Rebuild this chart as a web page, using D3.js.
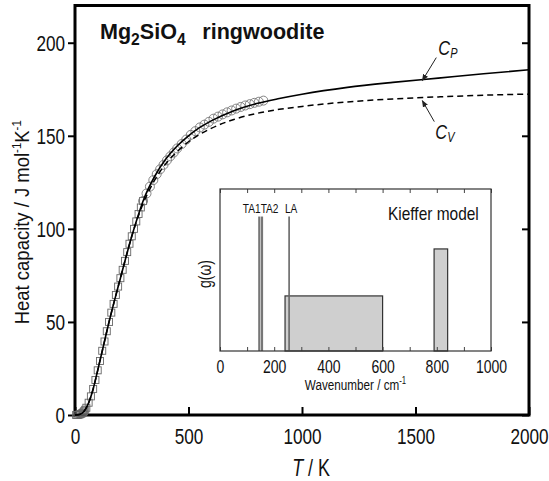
<!DOCTYPE html>
<html>
<head>
<meta charset="utf-8">
<script src="https://cdn.jsdelivr.net/npm/d3@7"></script>
<style>
  body { margin: 0; background: #fff; }
  svg { display: block; }
</style>
</head>
<body>
<div id="viz"></div>
<script>
'use strict';

// smooth model curves (T in K, heat capacity in J/mol/K)
const curveT = [0, 20, 40, 60, 80, 100, 125, 150, 175, 200, 225, 250, 275, 300, 350, 400, 450, 500, 550, 600, 700, 800, 900, 1000, 1200, 1400, 1600, 1800, 2000];
const curveCp = [0, 0.3, 2, 6.5, 14, 24, 37, 50, 62, 73.5, 85, 96, 106, 115, 128, 137.5, 144.5, 150, 154.5, 158, 163.5, 167.3, 170, 172.3, 176, 178.7, 181, 183.3, 185.5];
const curveCv = [0, 0.3, 2, 6.5, 14, 24, 37, 50, 62, 73.5, 85, 96, 105.5, 113.5, 126, 135, 141.5, 146.8, 150.8, 154, 158.8, 162, 164.2, 165.8, 168.2, 169.8, 170.9, 171.8, 172.4];

// measured points: low temperature (squares)
const squareT = [5, 10, 15, 20, 25, 30, 35, 40, 45, 50, 60, 70, 80, 90, 100, 110, 120, 130, 140, 150, 160, 170, 180, 190, 200, 210, 220, 230, 240, 250, 260, 270, 280, 290, 300];
const squareCp = [0, 0.05, 0.1, 0.3, 0.5, 0.9, 1.3, 2, 2.8, 3.9, 6.6, 10, 14, 18.8, 24, 29, 34.5, 39.5, 45, 50, 55, 59.7, 64.5, 69, 73.5, 78, 82.8, 87.5, 92, 96, 100, 104, 108, 111.5, 115];

// measured points: high temperature (circles)
const circleT = [300, 315, 330, 345, 360, 375, 390, 405, 420, 435, 450, 470, 490, 510, 530, 550, 570, 590, 610, 630, 650, 670, 690, 710, 730, 750, 770, 790, 810, 830];
const circleCp = [115, 119, 122.7, 126.2, 129.4, 132, 134.4, 136.8, 139, 141, 143.2, 145.6, 148, 150.5, 152.5, 154.5, 156, 157.5, 159.2, 160.3, 161.5, 162.6, 163.6, 164.6, 165.5, 166.3, 167, 167.7, 168.3, 168.9];

const xTicks = [0, 500, 1000, 1500, 2000];
const yTicks = [0, 50, 100, 150, 200];

// inset: Kieffer model density of states
const acousticNames = ['TA1', 'TA2', 'LA'];
const acousticFreq = [145, 155, 255];
const acousticHeight = 0.83;
const boxFrom = [240, 790];
const boxTo = [600, 840];
const boxHeight = [0.34, 0.63];
const insetTicks = [0, 100, 200, 300, 400, 500, 600, 700, 800, 900, 1000];

// arrows to curves
const arrowT = 1530;

const FONT = '"Liberation Sans", Arial, sans-serif';
const SQUEEZE = 0.78;

const W = 549, H = 481;
const margin = {top: 5.5, right: 20, bottom: 66, left: 75};
const width = W - margin.left - margin.right;
const height = H - margin.top - margin.bottom;

const svg = d3.select('#viz')
  .append('svg')
    .attr('width', W)
    .attr('height', H)
    .style('font-family', FONT);

const g = svg.append('g')
  .attr('transform', `translate(${margin.left},${margin.top})`);

const x = d3.scaleLinear().domain([0, 2000]).range([0, width]);
const y = d3.scaleLinear().domain([0, 220]).range([height, 0]);

// bottom axis, ticks pointing in
const xAxis = g.append('g')
  .attr('transform', `translate(0,${height})`)
  .call(d3.axisBottom(x).tickValues(xTicks).tickSizeInner(-8).tickSizeOuter(0).tickPadding(13)
    .tickFormat(d3.format('d')));

// left axis, ticks pointing out
const yAxis = g.append('g')
  .call(d3.axisLeft(y).tickValues(yTicks).tickSizeInner(7).tickSizeOuter(0).tickPadding(3)
    .tickFormat(d3.format('d')));

// right mirror ticks
const yAxisR = g.append('g')
  .attr('transform', `translate(${width},0)`)
  .call(d3.axisRight(y).tickValues(yTicks).tickSizeInner(-7).tickSizeOuter(0).tickFormat(''));

for (const a of [xAxis, yAxis, yAxisR]) {
  a.select('.domain').remove();
  a.selectAll('line').attr('stroke', '#000').attr('stroke-width', 2);
  a.selectAll('text')
    .attr('fill', '#111')
    .style('font-family', FONT)
    .style('font-size', '22px');
}
yAxis.selectAll('text').attr('dy', '0.36em');

// frame
g.append('rect')
  .attr('width', width)
  .attr('height', height)
  .attr('fill', 'none')
  .attr('stroke', '#000')
  .attr('stroke-width', 3);

// data markers
g.append('g')
  .selectAll('rect')
  .data(squareT)
  .join('rect')
    .attr('x', (d) => x(d) - 3.5)
    .attr('y', (d, i) => y(squareCp[i]) - 3.5)
    .attr('width', 7)
    .attr('height', 7)
    .attr('fill', 'none')
    .attr('stroke', '#666')
    .attr('stroke-width', 0.9);

g.append('g')
  .selectAll('circle')
  .data(circleT)
  .join('circle')
    .attr('cx', (d) => x(d))
    .attr('cy', (d, i) => y(circleCp[i]))
    .attr('r', 4.5)
    .attr('fill', 'none')
    .attr('stroke', '#777')
    .attr('stroke-width', 0.9);

// Cp and Cv curves
const line = (vals) => d3.line()
  .x((d) => x(d))
  .y((d, i) => y(vals[i]))
  .curve(d3.curveMonotoneX)(curveT);

g.append('path')
  .attr('d', line(curveCv))
  .attr('fill', 'none')
  .attr('stroke', '#000')
  .attr('stroke-width', 1.5)
  .attr('stroke-dasharray', '6,4');

g.append('path')
  .attr('d', line(curveCp))
  .attr('fill', 'none')
  .attr('stroke', '#000')
  .attr('stroke-width', 1.6);

// title (not condensed)
const title = g.append('text')
  .attr('x', 25)
  .attr('y', 33)
  .attr('data-sx', 0.98)
  .attr('font-weight', 'bold')
  .attr('font-size', '22px')
  .attr('fill', '#111');
title.append('tspan').text('Mg');
title.append('tspan').attr('dy', 6).attr('font-size', '16px').text('2');
title.append('tspan').attr('dy', -6).text('SiO');
title.append('tspan').attr('dy', 6).attr('font-size', '16px').text('4');
title.append('tspan').attr('dy', -6).attr('dx', 17).text('ringwoodite');

// arrow labels
svg.append('defs')
  .append('marker')
    .attr('id', 'head')
    .attr('viewBox', '0 0 10 10')
    .attr('refX', 9)
    .attr('refY', 5)
    .attr('markerWidth', 7)
    .attr('markerHeight', 7)
    .attr('orient', 'auto')
  .append('path')
    .attr('d', 'M0,1 L10,5 L0,9 Z')
    .attr('fill', '#222');

const cpAt = d3.scaleLinear().domain(curveT).range(curveCp);
const cvAt = d3.scaleLinear().domain(curveT).range(curveCv);

const annots = [
  {sub: 'P', tip: [x(arrowT), y(cpAt(arrowT)) + 1], tail: [x(arrowT) + 14, y(cpAt(arrowT)) - 22], lx: 16, ly: -26},
  {sub: 'V', tip: [x(arrowT), y(cvAt(arrowT)) + 3], tail: [x(arrowT) + 12, y(cvAt(arrowT)) + 24], lx: 13, ly: 38}
];

for (const a of annots) {
  g.append('line')
    .attr('x1', a.tail[0]).attr('y1', a.tail[1])
    .attr('x2', a.tip[0]).attr('y2', a.tip[1])
    .attr('stroke', '#222')
    .attr('stroke-width', 1)
    .attr('marker-end', 'url(#head)');
  const t = g.append('text')
    .attr('x', a.tip[0] + a.lx)
    .attr('y', a.tip[1] + a.ly)
    .attr('font-style', 'italic')
    .attr('font-size', '21px')
    .attr('fill', '#111');
  t.append('tspan').text('C');
  t.append('tspan').attr('dy', 3).attr('font-size', '14px').text(a.sub);
}

// axis titles
const yl = svg.append('text')
  .attr('transform', `translate(29,${margin.top + height / 2 + 12}) rotate(-90)`)
  .attr('data-sx', 0.88)
  .attr('text-anchor', 'middle')
  .attr('font-size', '21px')
  .attr('fill', '#111');
yl.append('tspan').text('Heat capacity  / J mol');
yl.append('tspan').attr('dy', -8).attr('font-size', '13px').text('-1');
yl.append('tspan').attr('dy', 8).text('K');
yl.append('tspan').attr('dy', -8).attr('font-size', '13px').text('-1');

const xl = svg.append('text')
  .attr('x', margin.left + x(1040))
  .attr('y', 476)
  .attr('text-anchor', 'middle')
  .attr('font-size', '23px')
  .attr('fill', '#111');
xl.append('tspan').attr('font-style', 'italic').text('T');
xl.append('tspan').text(' / K');

// ---- inset ----
const inset = {left: 220, top: 189, right: 491, bottom: 351};
const ix = d3.scaleLinear().domain([0, 1000]).range([0, inset.right - inset.left]);
const iy = d3.scaleLinear().domain([0, 1]).range([inset.bottom - inset.top, 0]);
const ih = inset.bottom - inset.top;

const ig = svg.append('g')
  .attr('transform', `translate(${inset.left},${inset.top})`);

ig.append('rect')
  .attr('width', ix(1000))
  .attr('height', ih)
  .attr('fill', '#fff');

ig.append('g')
  .selectAll('rect')
  .data(boxFrom)
  .join('rect')
    .attr('x', (d) => ix(d))
    .attr('y', (d, i) => iy(boxHeight[i]))
    .attr('width', (d, i) => ix(boxTo[i]) - ix(d))
    .attr('height', (d, i) => ih - iy(boxHeight[i]))
    .attr('fill', '#cfcfcf')
    .attr('stroke', '#333')
    .attr('stroke-width', 1.2);

ig.append('g')
  .selectAll('line')
  .data(acousticFreq)
  .join('line')
    .attr('x1', (d) => ix(d))
    .attr('x2', (d) => ix(d))
    .attr('y1', ih)
    .attr('y2', iy(acousticHeight))
    .attr('stroke', (d, i) => i < 2 ? '#777' : '#666')
    .attr('stroke-width', (d, i) => i < 2 ? 2.2 : 1.6);

// TA1TA2 and LA labels
ig.append('text')
  .attr('x', ix((acousticFreq[0] + acousticFreq[1]) / 2))
  .attr('y', iy(acousticHeight) - 4)
  .attr('text-anchor', 'middle')
  .attr('font-size', '13px')
  .attr('fill', '#111')
  .text(acousticNames[0] + acousticNames[1]);

ig.append('text')
  .attr('x', ix(acousticFreq[2]) + 2)
  .attr('y', iy(acousticHeight) - 4)
  .attr('text-anchor', 'middle')
  .attr('font-size', '13px')
  .attr('fill', '#111')
  .text(acousticNames[2]);

ig.append('text')
  .attr('x', ix(955))
  .attr('y', 31)
  .attr('data-sx', 0.86)
  .attr('text-anchor', 'end')
  .attr('font-size', '18px')
  .attr('fill', '#111')
  .text('Kieffer model');

const ixAxis = ig.append('g')
  .attr('transform', `translate(0,${ih})`)
  .call(d3.axisBottom(ix).tickValues(insetTicks).tickSizeInner(-4).tickSizeOuter(0).tickPadding(9)
    .tickFormat((d) => d % 200 === 0 ? d : ''));

const ixTop = ig.append('g')
  .call(d3.axisTop(ix).tickValues(insetTicks).tickSizeInner(-4).tickSizeOuter(0).tickFormat(''));

for (const a of [ixAxis, ixTop]) {
  a.select('.domain').remove();
  a.selectAll('line').attr('stroke', '#444').attr('stroke-width', 1);
  a.selectAll('text')
    .attr('fill', '#111')
    .style('font-family', FONT)
    .style('font-size', '18px');
}

ig.append('rect')
  .attr('width', ix(1000))
  .attr('height', ih)
  .attr('fill', 'none')
  .attr('stroke', '#333')
  .attr('stroke-width', 1.2);

const wl = ig.append('text')
  .attr('x', ix(500))
  .attr('y', ih + 39)
  .attr('text-anchor', 'middle')
  .attr('font-size', '15px')
  .attr('fill', '#111');
wl.append('tspan').text('Wavenumber / cm');
wl.append('tspan').attr('dy', -6).attr('font-size', '10px').text('-1');

ig.append('text')
  .attr('transform', `translate(-9,${ih / 2 + 4}) rotate(-90)`)
  .attr('text-anchor', 'middle')
  .attr('font-size', '18px')
  .attr('fill', '#111')
  .text('g(\u03c9)');

// the original lettering is horizontally condensed: squeeze each text about its anchor
svg.selectAll('text').each(function() {
  const t = d3.select(this);
  const x0 = +t.attr('x') || 0;
  const y0 = +t.attr('y') || 0;
  const sx = t.attr('data-sx') ? +t.attr('data-sx') : SQUEEZE;
  const tr = t.attr('transform') || '';
  t.attr('x', null)
    .attr('y', null)
    .attr('transform', `${tr} translate(${x0},${y0}) scale(${sx},1)`);
});
</script>
</body>
</html>
